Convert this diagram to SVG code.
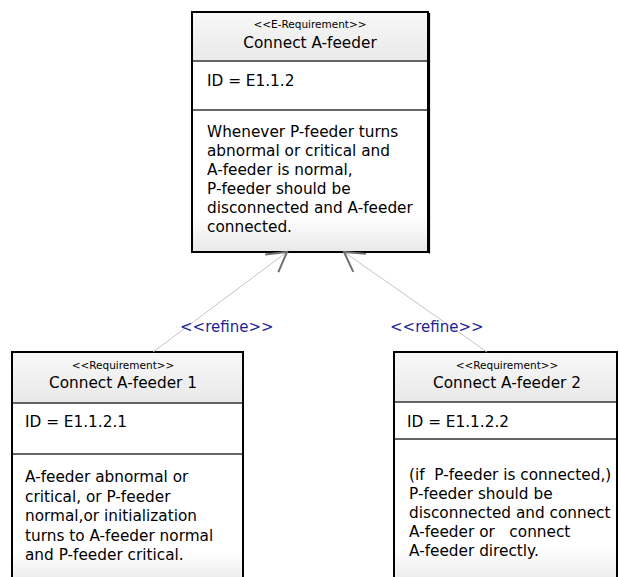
<svg xmlns="http://www.w3.org/2000/svg" width="619" height="577" viewBox="0 0 619 577">
<defs>
<linearGradient id="hdr" x1="0" y1="0" x2="0" y2="1">
<stop offset="0" stop-color="#f8f8f8"/>
<stop offset="1" stop-color="#e9e9e9"/>
</linearGradient>
<linearGradient id="body" x1="0" y1="0" x2="0" y2="1">
<stop offset="0" stop-color="#ffffff"/>
<stop offset="0.75" stop-color="#ffffff"/>
<stop offset="1" stop-color="#e8e8e8"/>
</linearGradient>
<marker id="open" markerUnits="userSpaceOnUse" markerWidth="40" markerHeight="40" refX="0" refY="0" viewBox="-25 -20 40 40" orient="auto-start-reverse" overflow="visible">
<path d="M-19,-11 L0,0 L-19,11" fill="none" stroke="#6f6f6f" stroke-width="2"/>
</marker>
</defs>
<style>
.frame{fill:none;stroke:#000;stroke-width:2}
.div{stroke:#333;stroke-width:1.5}
.st{font-family:"DejaVu Sans",sans-serif;font-size:10.5px;fill:#000;text-anchor:middle}
.nm{font-family:"DejaVu Sans",sans-serif;font-size:15.3px;fill:#000;text-anchor:middle}
.tx{font-family:"DejaVu Sans",sans-serif;font-size:15.3px;fill:#000;white-space:pre}
.lbl{font-family:"DejaVu Sans",sans-serif;font-size:15px;fill:#1f1f99}
.ln{fill:none;stroke:#c4c4c4;stroke-width:1}
</style>
<rect width="619" height="577" fill="#fff"/>

<g id="node-e112">
<rect x="192" y="12" width="236" height="49" fill="url(#hdr)"/>
<rect x="192" y="61" width="236" height="49" fill="#fff"/>
<rect x="192" y="110" width="236" height="142" fill="url(#body)"/>
<line class="div" x1="192" y1="61" x2="428" y2="61"/>
<line class="div" x1="192" y1="110" x2="428" y2="110"/>
<rect class="frame" x="192" y="12" width="236" height="240"/>
<line x1="429.5" y1="13" x2="429.5" y2="253.5" stroke="#000" stroke-width="1.2"/>
<text class="st" x="310" y="28">&lt;&lt;E-Requirement&gt;&gt;</text>
<text class="nm" x="310" y="48">Connect A-feeder</text>
<text class="tx" x="207" y="86">ID = E1.1.2</text>
<text class="tx" x="207" y="137">Whenever P-feeder turns</text>
<text class="tx" x="207" y="156">abnormal or critical and</text>
<text class="tx" x="207" y="175">A-feeder is normal,</text>
<text class="tx" x="207" y="194">P-feeder should be</text>
<text class="tx" x="207" y="213">disconnected and A-feeder</text>
<text class="tx" x="207" y="232">connected.</text>
</g>

<g id="node-e1121">
<rect x="12" y="352" width="231" height="51" fill="url(#hdr)"/>
<rect x="12" y="403" width="231" height="51" fill="#fff"/>
<rect x="12" y="454" width="231" height="131" fill="url(#body)"/>
<line class="div" x1="12" y1="403" x2="243" y2="403"/>
<line class="div" x1="12" y1="454" x2="243" y2="454"/>
<rect class="frame" x="12" y="352" width="231" height="233"/>
<text class="st" x="123" y="369">&lt;&lt;Requirement&gt;&gt;</text>
<text class="nm" x="123" y="388">Connect A-feeder 1</text>
<text class="tx" x="25" y="427">ID = E1.1.2.1</text>
<text class="tx" x="25" y="482">A-feeder abnormal or</text>
<text class="tx" x="25" y="502">critical, or P-feeder</text>
<text class="tx" x="25" y="521">normal,or initialization</text>
<text class="tx" x="25" y="541">turns to A-feeder normal</text>
<text class="tx" x="25" y="560">and P-feeder critical.</text>
</g>

<g id="node-e1122">
<rect x="394" y="352" width="223" height="50" fill="url(#hdr)"/>
<rect x="394" y="402" width="223" height="37" fill="#fff"/>
<rect x="394" y="439" width="223" height="146" fill="url(#body)"/>
<line class="div" x1="394" y1="402" x2="617" y2="402"/>
<line class="div" x1="394" y1="439" x2="617" y2="439"/>
<rect class="frame" x="394" y="352" width="223" height="233"/>
<text class="st" x="507" y="369">&lt;&lt;Requirement&gt;&gt;</text>
<text class="nm" x="507" y="388">Connect A-feeder 2</text>
<text class="tx" x="407" y="427">ID = E1.1.2.2</text>
<text class="tx" x="409" y="480">(if  P-feeder is connected,)</text>
<text class="tx" x="409" y="499">P-feeder should be</text>
<text class="tx" x="409" y="518">disconnected and connect</text>
<text class="tx" x="409" y="537">A-feeder or   connect</text>
<text class="tx" x="409" y="556">A-feeder directly.</text>
</g>

<g id="connectors">
<path class="ln" d="M287,252 L153,352" marker-start="url(#open)"/>
<path class="ln" d="M344,252 L487,352" marker-start="url(#open)"/>
<text class="lbl" x="180" y="332">&lt;&lt;refine&gt;&gt;</text>
<text class="lbl" x="390" y="332">&lt;&lt;refine&gt;&gt;</text>
</g>
</svg>
